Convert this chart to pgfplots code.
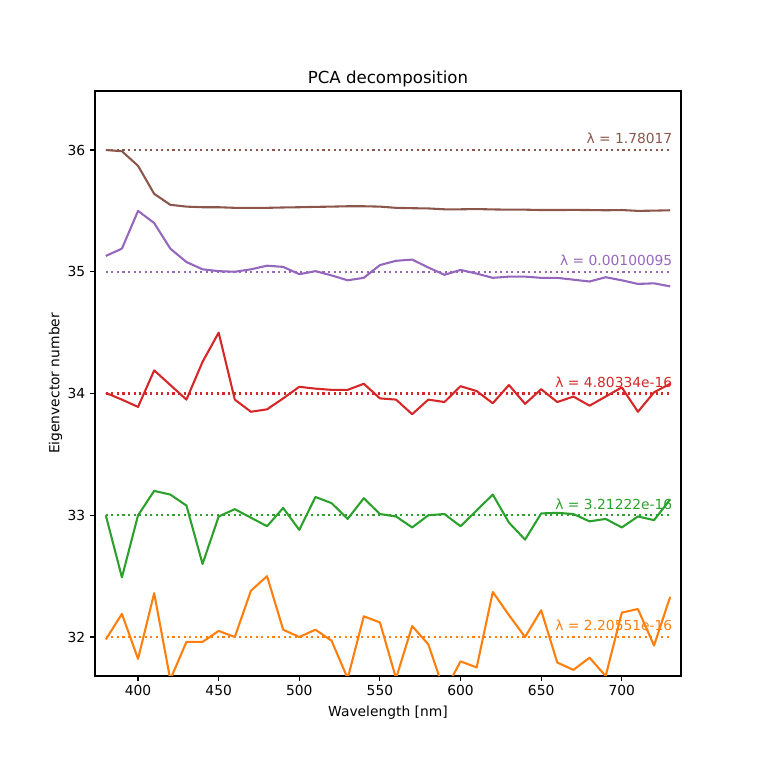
\documentclass[border=0pt]{standalone}
\usepackage{fontspec}
\setmainfont{DejaVu Sans}
\usepackage{pgfplots}
\pgfplotsset{compat=1.18}
\definecolor{cA}{HTML}{FF7F0E}
\definecolor{cB}{HTML}{2CA02C}
\definecolor{cC}{HTML}{D62728}
\definecolor{cD}{HTML}{9467BD}
\definecolor{cE}{HTML}{8C564B}
\begin{document}
\begin{tikzpicture}
\path[use as bounding box] (-68.4bp,-60.5bp) rectangle (476.6bp,486.7bp);
\begin{axis}[
  at={(0,0)}, anchor=south west,
  scale only axis, width=421.9bp, height=421.2bp,
  xmin=373.3, xmax=736.7, ymin=31.68, ymax=36.485,
  xtick={400,450,...,700}, ytick={32,33,34,35,36},
  tick align=outside, major tick length=3.5bp,
  tick pos=left,
  every tick/.style={black, line width=0.8bp},
  axis line style={line width=0.8bp},
  /pgf/number format/assume math mode=true,
  ticklabel style={font=\fontsize{10}{12}\selectfont},
  label style={font=\fontsize{10}{12}\selectfont},
  title={PCA decomposition},
  title style={font=\fontsize{12}{14}\selectfont, yshift=-6.5bp},
  xlabel={Wavelength [nm]},
  ylabel={Eigenvector number},
  ylabel style={yshift=-3bp},
  every axis plot/.append style={line width=1.5bp, line join=round},
]
% orange (component 1)
\addplot[cA] coordinates {
(380,31.98) (390,32.19) (400,31.82) (410,32.36) (420,31.65) (430,31.96)
(440,31.96) (450,32.05) (460,32.00) (470,32.38) (480,32.50) (490,32.06)
(500,32.00) (510,32.06) (520,31.97) (530,31.66) (540,32.17) (550,32.12)
(560,31.66) (570,32.09) (580,31.94) (590,31.55) (600,31.80) (610,31.75)
(620,32.37) (630,32.18) (640,32.00) (650,32.22) (660,31.79) (670,31.73)
(680,31.83) (690,31.68) (700,32.20) (710,32.23) (720,31.93) (730,32.33)};
\addplot[cA, dash pattern=on 1.5bp off 2.5bp] coordinates {(380,32) (730,32)};
% green
\addplot[cB] coordinates {
(380,33.00) (390,32.49) (400,33.00) (410,33.20) (420,33.17) (430,33.08)
(440,32.60) (450,32.99) (460,33.05) (470,32.98) (480,32.91) (490,33.06)
(500,32.88) (510,33.15) (520,33.10) (530,32.97) (540,33.14) (550,33.01)
(560,32.99) (570,32.90) (580,33.00) (590,33.01) (600,32.91) (610,33.04)
(620,33.17) (630,32.94) (640,32.80) (650,33.015) (660,33.02) (670,33.01)
(680,32.95) (690,32.97) (700,32.90) (710,32.99) (720,32.96) (730,33.13)};
\addplot[cB, dash pattern=on 1.5bp off 2.5bp] coordinates {(380,33) (730,33)};
% red
\addplot[cC] coordinates {
(380,34.005) (390,33.95) (400,33.89) (410,34.19) (420,34.07) (430,33.95)
(440,34.26) (450,34.50) (460,33.95) (470,33.85) (480,33.87) (490,33.96)
(500,34.055) (510,34.04) (520,34.03) (530,34.03) (540,34.08) (550,33.96)
(560,33.95) (570,33.83) (580,33.95) (590,33.93) (600,34.06) (610,34.02)
(620,33.92) (630,34.07) (640,33.915) (650,34.035) (660,33.93) (670,33.975)
(680,33.90) (690,33.975) (700,34.05) (710,33.85) (720,34.01) (730,34.08)};
\addplot[cC, dash pattern=on 1.5bp off 2.5bp] coordinates {(380,34) (730,34)};
% purple
\addplot[cD] coordinates {
(380,35.13) (390,35.19) (400,35.50) (410,35.40) (420,35.19) (430,35.08)
(440,35.02) (450,35.005) (460,35.00) (470,35.02) (480,35.05) (490,35.04)
(500,34.98) (510,35.005) (520,34.97) (530,34.93) (540,34.95) (550,35.055)
(560,35.09) (570,35.10) (580,35.035) (590,34.975) (600,35.015) (610,34.985)
(620,34.95) (630,34.96) (640,34.96) (650,34.95) (660,34.95) (670,34.935)
(680,34.92) (690,34.955) (700,34.93) (710,34.90) (720,34.905) (730,34.88)};
\addplot[cD, dash pattern=on 1.5bp off 2.5bp] coordinates {(380,35) (730,35)};
% brown
\addplot[cE] coordinates {
(380,36.00) (390,35.99) (400,35.87) (410,35.64) (420,35.55) (430,35.535)
(440,35.53) (450,35.53) (460,35.525) (470,35.525) (480,35.525) (490,35.528)
(500,35.53) (510,35.533) (520,35.535) (530,35.538) (540,35.538) (550,35.535)
(560,35.525) (570,35.522) (580,35.52) (590,35.513) (600,35.513) (610,35.515)
(620,35.512) (630,35.51) (640,35.51) (650,35.507) (660,35.507) (670,35.508)
(680,35.507) (690,35.505) (700,35.507) (710,35.50) (720,35.502) (730,35.505)};
\addplot[cE, dash pattern=on 1.5bp off 2.5bp] coordinates {(380,36) (730,36)};
\begin{scope}[every node/.style={anchor=base east, inner sep=0pt, font=\fontsize{10}{12}\selectfont}]
\node[text=cA] at (axis cs:731.5,32.05) {λ = 2.20551e-16};
\node[text=cB] at (axis cs:731.5,33.05) {λ = 3.21222e-16};
\node[text=cC] at (axis cs:731.5,34.05) {λ = 4.80334e-16};
\node[text=cD] at (axis cs:731.5,35.05) {λ = 0.00100095};
\node[text=cE] at (axis cs:731.5,36.05) {λ = 1.78017};
\end{scope}
\end{axis}
\end{tikzpicture}
\end{document}
